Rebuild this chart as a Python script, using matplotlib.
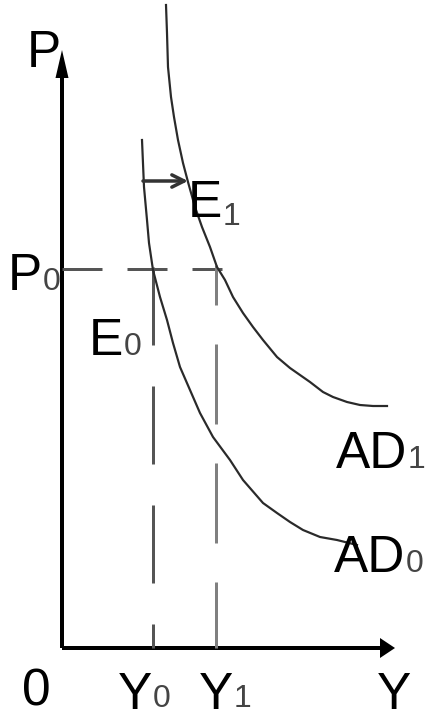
import matplotlib
matplotlib.use("Agg")
import matplotlib.pyplot as plt

plt.rcParams['font.family'] = ['Liberation Sans', 'DejaVu Sans']
plt.rcParams['lines.scale_dashes'] = False

# Data (origin of the diagram at (0, 0); units ~ pixels of the reference)
ad1_x = [104, 105, 106, 109, 112, 116, 121, 126, 133, 140, 148, 155, 163, 171, 181,
         191, 201, 215, 228, 238, 248, 261, 271, 285, 298, 311, 325]
ad1_y = [643, 615, 581, 551, 531, 508, 485, 466, 441, 421, 401, 381, 368, 351, 335,
         321, 308, 291, 280, 273, 266, 256, 251, 246, 243, 242, 242]
ad0_x = [80, 82, 85, 87, 91, 98, 105, 111, 118, 128, 138, 151, 168, 181,
         201, 215, 228, 241, 258, 275, 295]
ad0_y = [508, 461, 428, 405, 378, 351, 328, 305, 281, 258, 235, 211, 188, 168,
         145, 135, 126, 118, 111, 108, 103]
p0 = 379
y0 = 91
y1 = 154
shift_y = 467
shift_from = 81
shift_to = 126
y_axis_top = 598
x_axis_end = 333

fig = plt.figure(figsize=(4.26, 7.2), dpi=100)
ax = fig.add_axes([0, 0, 1, 1])
ax.set_xlim(-62, 364)
ax.set_ylim(-72, 648)
ax.axis('off')

px = 0.72  # points per pixel at dpi 100

# axes with arrows
ax.arrow(0, 0, 0, y_axis_top, width=4, head_width=13, head_length=28,
         length_includes_head=True, color='black', lw=0)
ax.arrow(0, 0, x_axis_end, 0, width=4, head_width=20, head_length=15,
         length_includes_head=True, color='black', lw=0)

# dashed guide lines
ax.plot([0, y1 + 6], [p0, p0], color='#555555', lw=3 * px,
        linestyle=(0, (40 * px, 25 * px)), dash_capstyle='butt')
ax.plot([y0, y0], [p0 + 2, 0], color='#555555', lw=3 * px,
        linestyle=(0, (78 * px, 41 * px)), dash_capstyle='butt')
ax.plot([y1, y1], [p0 + 4, 0], color='#808080', lw=3 * px,
        linestyle=(40 * px, (80 * px, 39 * px)), dash_capstyle='butt')

# AD curves
ax.plot(ad1_x, ad1_y, color='#2a2a2a', lw=2.2 * px, solid_joinstyle='round')
ax.plot(ad0_x, ad0_y, color='#2a2a2a', lw=2.2 * px, solid_joinstyle='round')

# shift arrow
ax.annotate('', xy=(shift_to, shift_y), xytext=(shift_from, shift_y),
            arrowprops=dict(arrowstyle='->', color='#333333', lw=3.5 * px,
                            mutation_scale=22, shrinkA=0, shrinkB=0))

main = dict(fontsize=37, color='black', va='baseline')
sub = dict(fontsize=23, color='#444444', va='baseline', ha='left')

def label(main_text, sub_text, x_sub, base_main, base_sub):
    ax.text(x_sub, base_main, main_text, ha='right', **main)
    if sub_text:
        ax.text(x_sub + 1, base_sub, sub_text, **sub)

ax.text(-18, 581, 'P', ha='center', **main)
label('P', '0', -20, 358, 358)
label('E', '1', 160, 431, 423)
label('E', '0', 61, 293, 293)
label('AD', '1', 345, 180, 180)
label('AD', '0', 343, 76, 76)
ax.text(-26, -57, '0', ha='center', **main)
label('Y', '0', 90, -61, -59)
label('Y', '1', 171, -61, -59)
ax.text(332, -61, 'Y', ha='center', **main)

fig.savefig('out.png', dpi=100)
